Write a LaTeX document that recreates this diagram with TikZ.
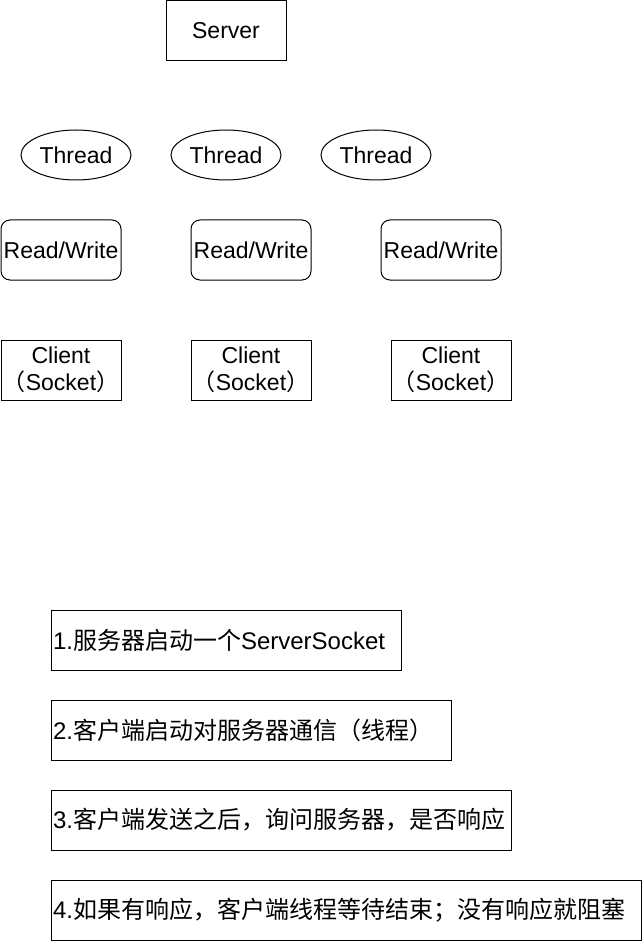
\documentclass[tikz,border=0pt]{standalone}
\usepackage{fontspec}
\setmainfont{Liberation Sans}
\newfontfamily\zhfont{Noto Sans CJK SC}
\usepackage{tikz}
\usetikzlibrary{
  positioning,
  shapes.geometric
}
\tikzset{
  box/.style={
    draw,
    line width=1pt,
    minimum width=120pt,
    minimum height=60pt,
    inner sep=0pt,
    outer sep=0pt,
    align=center,
    font=\fontsize{23}{27}\selectfont,
  },
  rw/.style={
    box,
    rounded corners=9pt,
  },
  thread/.style={
    box,
    ellipse,
    minimum width=110pt,
    minimum height=50pt,
  },
  stepbox/.style={
    draw,
    line width=1pt,
    minimum height=60pt,
    inner xsep=2pt,
    inner ysep=0pt,
    outer sep=0pt,
    text width=#1,
    align=left,
    font=\fontsize{24}{28}\selectfont,
  },
}
\newcommand{\zh}[1]{{\zhfont #1}}

\begin{document}
\begin{tikzpicture}[x=1pt, y=-1pt]
		\useasboundingbox (0,0) rectangle (642,941);
		\def\tgap{40pt}
		\def\gap{70pt}

		% server
		\node[box] (server) at (226,31) {Server};

		% threads
		\node[thread] (t1) at (76,155) {Thread};
		\node[thread,right=\tgap of t1] (t2) {Thread};
		\node[thread,right=\tgap of t2] (t3) {Thread};

		% read / write
		\node[rw] (rw1) at (61,250) {Read/Write};
		\node[rw,right=\gap of rw1] (rw2) {Read/Write};
		\node[rw,right=\gap of rw2] (rw3) {Read/Write};

		% clients
		\node[box] (c1) at (61,370) {Client\\\zh{（}Socket\zh{）}};
		\node[box,right=\gap of c1] (c2) {Client\\\zh{（}Socket\zh{）}};
		\node[box,right=80pt of c2] (c3) {Client\\\zh{（}Socket\zh{）}};

		% steps
		\node[stepbox=346pt,anchor=north west] (s1) at (51,610) {1.\zh{服务器启动一个}ServerSocket};
		\node[stepbox=396pt,below=30pt of s1.south west,anchor=north west] (s2) {2.\zh{客户端启动对服务器通信（线程）}};
		\node[stepbox=456pt,below=30pt of s2.south west,anchor=north west] (s3) {3.\zh{客户端发送之后，询问服务器，是否响应}};
		\node[stepbox=586pt,below=30pt of s3.south west,anchor=north west] (s4) {4.\zh{如果有响应，客户端线程等待结束；没有响应就阻塞}};

	\end{tikzpicture}
\end{document}
